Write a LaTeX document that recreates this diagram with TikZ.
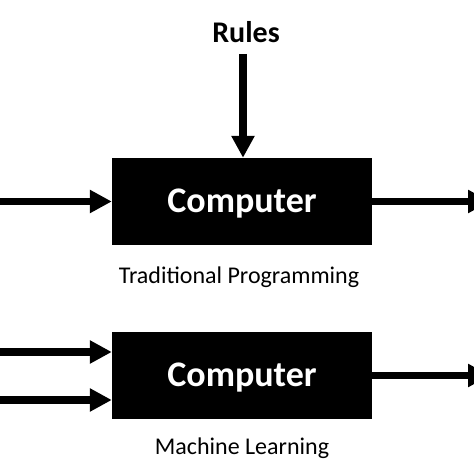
\documentclass[tikz,border=0pt]{standalone}
\usepackage{fontspec}
\setmainfont{Carlito}
\usepackage{tikz}
\usetikzlibrary{calc, arrows.meta}
\tikzstyle{computer} = [rectangle, fill=black, text=white, minimum width=260pt, minimum height=87pt, inner sep=0pt, text depth=2pt, font=\fontsize{36}{40}\selectfont\bfseries]
\tikzstyle{caption} = [font=\fontsize{24}{28}\selectfont]
\tikzstyle{connector} = [draw, line width=7.5pt, -{Triangle[length=22pt, width=22pt]}]

\begin{document}
\begin{tikzpicture}[x=1pt, y=1pt]
        \useasboundingbox (0, 0) rectangle (474, 474);

        \node[font=\fontsize{30}{34}\selectfont\bfseries] (rules) at (246, 442) {Rules};
        \coordinate (rulestop) at (243, 420);

        \node[computer] (tradbox) at (242, 272.5) {Computer};
        \node[caption] (tradlabel) at (239, 197) {Traditional Programming};
        \coordinate (tradin) at (-2, 272.5);
        \coordinate (tradout) at (490, 272.5);

        \node[computer] (mlbox) at (242, 98.5) {Computer};
        \node[caption] (mllabel) at (242, 26) {Machine Learning};
        \coordinate (mlinA) at (-2, 122);
        \coordinate (mlinB) at (-2, 74);
        \coordinate (mlout) at (490, 98.5);

        \draw[connector] (rulestop) -- (rulestop |- tradbox.north);
        \draw[connector] (tradin) -- (tradbox.west);
        \draw[connector] (tradbox.east) -- (tradout);

        \draw[connector] (mlinA) -- (mlinA -| mlbox.west);
        \draw[connector] (mlinB) -- (mlinB -| mlbox.west);
        \draw[connector] (mlbox.east) -- (mlout);

    \end{tikzpicture}
\end{document}
